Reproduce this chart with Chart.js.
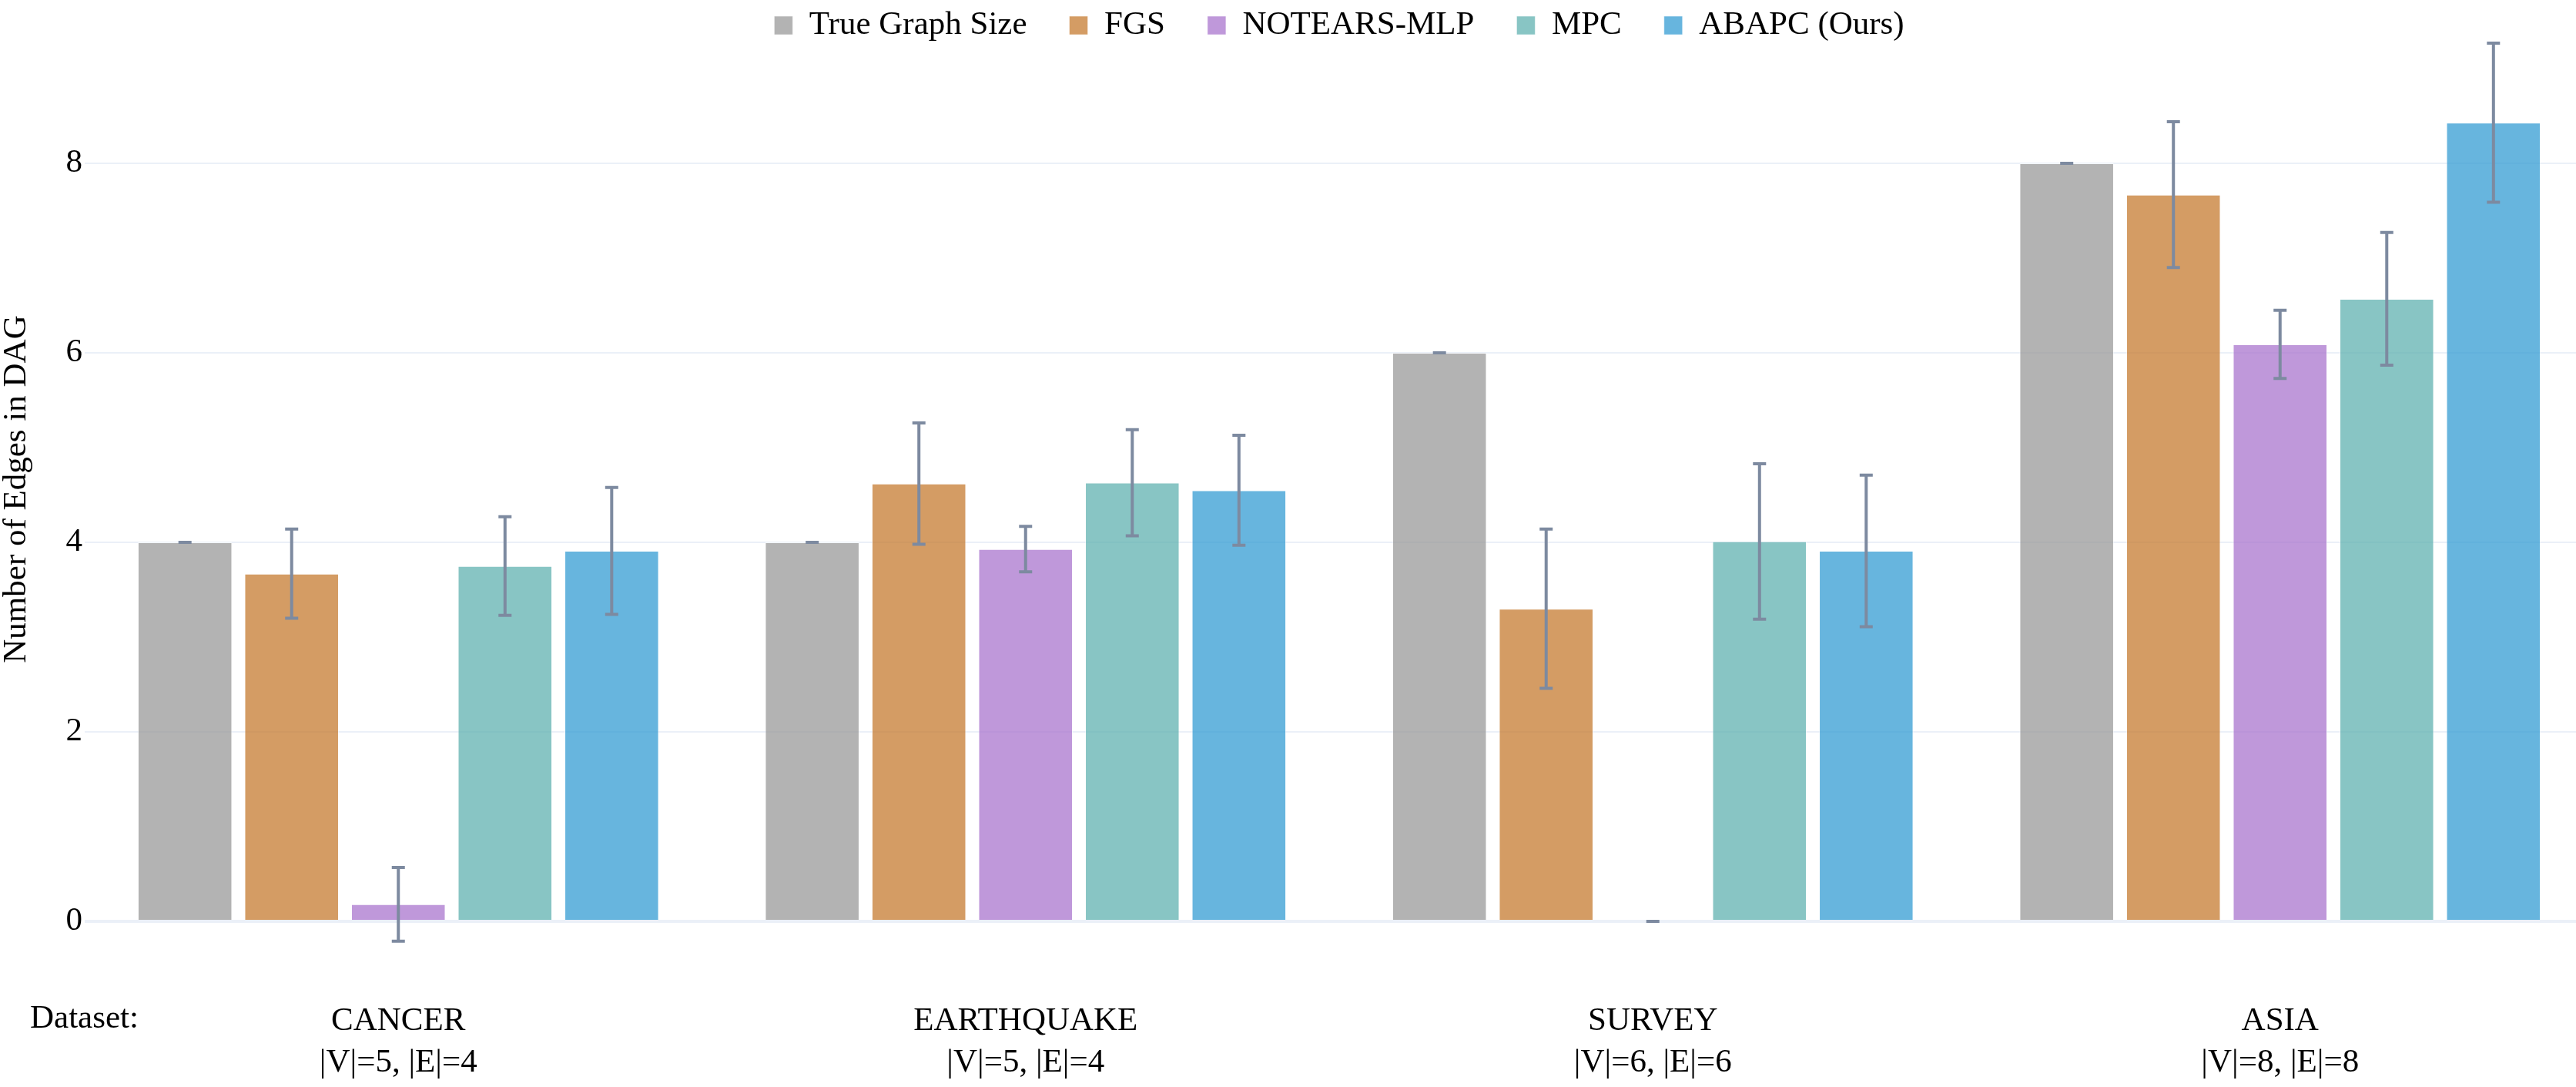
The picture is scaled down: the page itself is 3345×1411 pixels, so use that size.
<!DOCTYPE html>
<html>
<head>
    <title>Number of Edges in DAG</title>
    <style>
        html, body {
            margin: 0;
            padding: 0;
            background: #ffffff;
            overflow: hidden;
        }
        #chart {
            display: block;
        }
    </style>
    <script src="https://cdn.jsdelivr.net/npm/chart.js"></script>
</head>
<body>
    <canvas id="chart" width="3400" height="1411"></canvas>
    <script>
        // data
        const categories = ['CANCER', 'EARTHQUAKE', 'SURVEY', 'ASIA'];
        const graphInfo = ['|V|=5, |E|=4', '|V|=5, |E|=4', '|V|=6, |E|=6', '|V|=8, |E|=8'];
        const methods = ['True Graph Size', 'FGS', 'NOTEARS-MLP', 'MPC', 'ABAPC (Ours)'];

        const trueSize = [4, 4, 6, 8];
        const trueSizeErr = [0, 0, 0, 0];
        const fgs = [3.67, 4.62, 3.30, 7.67];
        const fgsErr = [0.47, 0.64, 0.84, 0.77];
        const notearsMlp = [0.18, 3.93, 0, 6.09];
        const notearsMlpErr = [0.39, 0.24, 0, 0.36];
        const mpc = [3.75, 4.63, 4.01, 6.57];
        const mpcErr = [0.52, 0.56, 0.82, 0.70];
        const abapc = [3.91, 4.55, 3.91, 8.43];
        const abapcErr = [0.67, 0.58, 0.80, 0.84];

        const yTicks = [0, 2, 4, 6, 8];

        const FONT = '"Liberation Serif", "Times New Roman", serif';
        const FONT_SIZE = 43;
        const LEGEND_PAD = 55;

        Chart.defaults.font.family = FONT;
        Chart.defaults.font.size = FONT_SIZE;
        Chart.defaults.color = '#000000';

        const seriesValues = [trueSize, fgs, notearsMlp, mpc, abapc];
        const seriesErrors = [trueSizeErr, fgsErr, notearsMlpErr, mpcErr, abapcErr];
        const seriesColors = [
            'rgba(154, 154, 154, 0.75)',
            'rgba(198, 123, 48, 0.75)',
            'rgba(170, 118, 206, 0.75)',
            'rgba(96, 178, 176, 0.75)',
            'rgba(52, 156, 211, 0.75)'
        ];

        const datasets = methods.map((name, i) => ({
            label: name,
            data: seriesValues[i],
            errors: seriesErrors[i],
            backgroundColor: seriesColors[i],
            borderColor: 'rgba(255, 255, 255, 0.5)',
            borderWidth: 1,
            categoryPercentage: 0.8504,
            barPercentage: 0.8845
        }));

        // symmetric error bars drawn on top of the bars
        const errorBars = {
            id: 'errorBars',
            afterDatasetsDraw(chart) {
                const ctx = chart.ctx;
                const y = chart.scales.y;
                ctx.save();
                ctx.strokeStyle = '#7d8aa0';
                ctx.lineWidth = 4;
                chart.data.datasets.forEach((ds, i) => {
                    const meta = chart.getDatasetMeta(i);
                    meta.data.forEach((bar, j) => {
                        const v = ds.data[j];
                        const e = ds.errors[j];
                        const top = y.getPixelForValue(v + e);
                        const bottom = y.getPixelForValue(v - e);
                        ctx.beginPath();
                        ctx.moveTo(bar.x, top);
                        ctx.lineTo(bar.x, bottom);
                        ctx.moveTo(bar.x - 8.5, top);
                        ctx.lineTo(bar.x + 8.5, top);
                        ctx.moveTo(bar.x - 8.5, bottom);
                        ctx.lineTo(bar.x + 8.5, bottom);
                        ctx.stroke();
                    });
                });
                ctx.restore();
            }
        };

        // legend takes (almost) no layout room; move it into the top strip
        const legendShift = {
            id: 'legendShift',
            afterLayout(chart) {
                const legend = chart.legend;
                const area = chart.chartArea;
                legend.left = area.left;
                legend.right = area.right;
                legend.top = 33 - LEGEND_PAD - FONT_SIZE / 2;
                legend.bottom = 80;   // the legend clips to its own box
                legend.height = legend.bottom - legend.top;
            }
        };

        // axis title and the "Dataset:" note
        const extraText = {
            id: 'extraText',
            afterDraw(chart) {
                const ctx = chart.ctx;
                ctx.save();
                ctx.fillStyle = '#000000';
                ctx.font = FONT_SIZE + 'px ' + FONT;
                ctx.textBaseline = 'middle';
                ctx.textAlign = 'left';
                ctx.fillText('Dataset:', 39, 1323);
                ctx.translate(21.5, 635);
                ctx.rotate(-Math.PI / 2);
                ctx.textAlign = 'center';
                ctx.fillText('Number of Edges in DAG', 0, 0);
                ctx.restore();
            }
        };

        new Chart(document.getElementById('chart'), {
            type: 'bar',
            data: {
                labels: categories.map((c, i) => [c, graphInfo[i]]),
                datasets: datasets
            },
            options: {
                responsive: false,
                animation: false,
                events: [],
                layout: {
                    padding: { left: 0, right: 32, top: 2, bottom: 0 }
                },
                scales: {
                    x: {
                        grid: { display: false },
                        border: { display: false },
                        ticks: {
                            autoSkip: false,
                            maxRotation: 0,
                            padding: 95,
                            font: { size: FONT_SIZE, lineHeight: 54 / FONT_SIZE }
                        },
                        afterFit(scale) {
                            scale.height = 215;
                            scale.paddingLeft = 0;
                            scale.paddingRight = 0;
                        }
                    },
                    y: {
                        min: 0,
                        max: 9.7,
                        border: { display: false },
                        grid: {
                            color: '#ebf0f8',
                            drawTicks: false,
                            lineWidth: (ctx) => (ctx.tick && ctx.tick.value === 0 ? 4 : 2)
                        },
                        ticks: {
                            padding: 3,
                            font: { size: FONT_SIZE }
                        },
                        afterBuildTicks(axis) {
                            axis.ticks = yTicks.map(v => ({ value: v }));
                        },
                        afterFit(scale) {
                            scale.width = 110;
                            scale.paddingTop = 0;
                            scale.paddingBottom = 0;
                        }
                    }
                },
                plugins: {
                    legend: {
                        position: 'top',
                        align: 'center',
                        maxHeight: 1,
                        labels: {
                            boxWidth: 24,
                            boxHeight: 24,
                            padding: LEGEND_PAD,
                            font: { size: FONT_SIZE }
                        }
                    },
                    tooltip: { enabled: false }
                }
            },
            plugins: [errorBars, legendShift, extraText]
        });
    </script>
</body>
</html>
